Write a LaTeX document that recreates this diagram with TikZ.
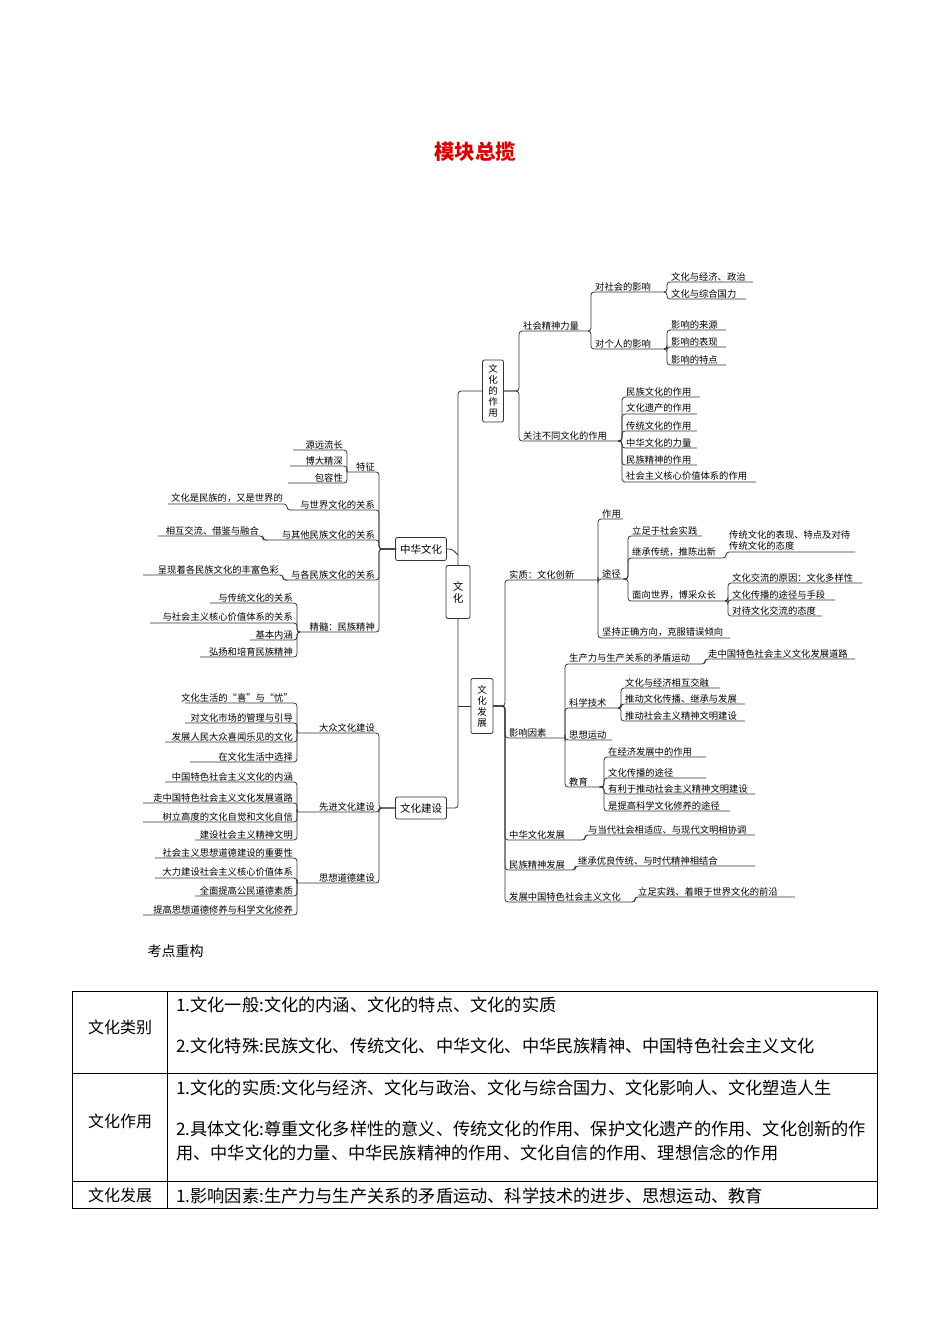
\documentclass[tikz,border=0pt]{standalone}
\usepackage{fontspec}
\setmainfont{Noto Sans CJK SC}
\begin{document}
\begin{tikzpicture}[x=1pt,y=-1pt,
  lbl/.style={inner sep=1pt,font=\fontsize{9.3}{10}\selectfont,text=black},
  ln/.style={draw=black!80,line width=0.8pt,rounded corners=3pt},
  box/.style={draw=black!80,line width=0.8pt,rounded corners=2pt,font=\fontsize{10.5}{12}\selectfont,inner sep=2pt,align=center},
  tb/.style={font=\fontsize{17.2}{18}\selectfont,inner sep=0pt,anchor=west}]
\useasboundingbox (0,0) rectangle (950,1344);
\newcommand\Rt[4]{\node[lbl,anchor=south west] (#1) at (#2+3,#3) {#4};}
\newcommand\Lt[4]{\node[lbl,anchor=south east] (#1) at (#2-3,#3) {#4};}
\newcommand\cn[5]{\draw[ln] (#1,#2) -- (#3,#2) -- (#3,#4) -- (#5,#4);}
% title
\node[font=\fontsize{20.5}{22}\selectfont\bfseries,text=red!85!black] (title) at (475,152) {模块总揽};
% boxes
\node[box,minimum width=24pt,minimum height=53pt] (wh) at (458,592) {文\\化};
\node[box,minimum width=21pt,minimum height=62pt,font=\fontsize{9.5}{11}\selectfont] (zy) at (493,391) {文\\化\\的\\作\\用};
\node[box,minimum width=22pt,minimum height=55pt,font=\fontsize{9.5}{11}\selectfont] (fz) at (482,706) {文\\化\\发\\展};
\node[box,minimum width=51pt,minimum height=23pt] (zh) at (421,549) {中华文化};
\node[box,minimum width=51pt,minimum height=22pt] (js) at (421,808) {文化建设};
% main connectors
\draw[ln] (zy.west) -- (458,391) -- (wh.north);
\draw[ln] (zh.east) -- (452,549) -- (458,555);
\draw[ln] (wh.south) -- (458,808) -- (js.east);
\draw[ln] (fz.west) -- (458,706);
% ---- 文化的作用
\cn{504}{391}{519}{331}{588}\Rt{a1}{519}{331}{社会精神力量}
\cn{504}{391}{519}{441}{618}\Rt{a2}{519}{441}{关注不同文化的作用}
\cn{588}{331}{591}{292}{664}\Rt{a11}{591}{292}{对社会的影响}
\cn{588}{331}{591}{349}{664}\Rt{a12}{591}{349}{对个人的影响}
\cn{664}{292}{667}{282}{753}\Rt{b1}{667}{282}{文化与经济、政治}
\cn{664}{292}{667}{299}{746}\Rt{b2}{667}{299}{文化与综合国力}
\cn{664}{349}{667}{330}{726}\Rt{b3}{667}{330}{影响的来源}
\cn{664}{349}{667}{347}{726}\Rt{b4}{667}{347}{影响的表现}
\cn{664}{349}{667}{365}{726}\Rt{b5}{667}{365}{影响的特点}
\cn{618}{441}{622}{397}{700}\Rt{c1}{622}{397}{民族文化的作用}
\cn{618}{441}{622}{414}{697}\Rt{c2}{622}{414}{文化遗产的作用}
\cn{618}{441}{622}{431}{697}\Rt{c3}{622}{431}{传统文化的作用}
\cn{618}{441}{622}{448}{697}\Rt{c4}{622}{448}{中华文化的力量}
\cn{618}{441}{622}{465}{697}\Rt{c5}{622}{465}{民族精神的作用}
\cn{618}{441}{622}{482}{756}\Rt{c6}{622}{482}{社会主义核心价值体系的作用}
% ---- 中华文化
\cn{396}{549}{379}{472}{347}\Lt{d1}{379}{472}{特征}
\cn{396}{549}{379}{510}{290}\Lt{d2}{379}{510}{与世界文化的关系}
\cn{396}{549}{379}{540}{265}\Lt{d3}{379}{540}{与其他民族文化的关系}
\cn{396}{549}{379}{580}{285}\Lt{d4}{379}{580}{与各民族文化的关系}
\cn{396}{549}{379}{632}{300}\Lt{d5}{379}{632}{精髓：民族精神}
\cn{347}{472}{347}{450}{293}\Lt{e1}{347}{450}{源远流长}
\cn{347}{472}{347}{466}{290}\Lt{e2}{347}{466}{博大精深}
\cn{347}{472}{347}{483}{288}\Lt{e3}{347}{483}{包容性}
\cn{290}{510}{287}{504}{168}\Lt{e4}{287}{504}{文化是民族的，又是世界的}
\cn{265}{540}{263}{536}{158}\Lt{e5}{263}{536}{相互交流、借鉴与融合}
\cn{285}{580}{283}{575}{143}\Lt{e6}{283}{575}{呈现着各民族文化的丰富色彩}
\cn{300}{632}{297}{603}{210}\Lt{f1}{297}{603}{与传统文化的关系}
\cn{300}{632}{297}{623}{150}\Lt{f2}{297}{623}{与社会主义核心价值体系的关系}
\cn{300}{632}{297}{640}{250}\Lt{f3}{297}{640}{基本内涵}
\cn{300}{632}{297}{657}{200}\Lt{f4}{297}{657}{弘扬和培育民族精神}
% ---- 文化建设
\cn{396}{808}{379}{733}{297}\Lt{g1}{379}{733}{大众文化建设}
\cn{396}{808}{379}{812}{297}\Lt{g2}{379}{812}{先进文化建设}
\cn{396}{808}{379}{883}{297}\Lt{g3}{379}{883}{思想道德建设}
\cn{297}{733}{297}{703}{185}\Lt{h1}{297}{703}{文化生活的“喜”与“忧”}
\cn{297}{733}{297}{723}{185}\Lt{h2}{297}{723}{对文化市场的管理与引导}
\cn{297}{733}{297}{742}{165}\Lt{h3}{297}{742}{发展人民大众喜闻乐见的文化}
\cn{297}{733}{297}{762}{190}\Lt{h4}{297}{762}{在文化生活中选择}
\cn{297}{812}{297}{782}{165}\Lt{h5}{297}{782}{中国特色社会主义文化的内涵}
\cn{297}{812}{297}{803}{143}\Lt{h6}{297}{803}{走中国特色社会主义文化发展道路}
\cn{297}{812}{297}{822}{143}\Lt{h7}{297}{822}{树立高度的文化自觉和文化自信}
\cn{297}{812}{297}{840}{195}\Lt{h8}{297}{840}{建设社会主义精神文明}
\cn{297}{883}{297}{858}{155}\Lt{h9}{297}{858}{社会主义思想道德建设的重要性}
\cn{297}{883}{297}{878}{155}\Lt{h10}{297}{878}{大力建设社会主义核心价值体系}
\cn{297}{883}{297}{896}{195}\Lt{h11}{297}{896}{全面提高公民道德素质}
\cn{297}{883}{297}{915}{143}\Lt{h12}{297}{915}{提高思想道德修养与科学文化修养}
% ---- 文化发展
\cn{493}{706}{505}{580}{598}\Rt{i1}{505}{580}{实质：文化创新}
\cn{493}{706}{505}{738}{565}\Rt{i2}{505}{738}{影响因素}
\cn{493}{706}{505}{840}{582}\Rt{i3}{505}{840}{中华文化发展}
\cn{493}{706}{505}{870}{572}\Rt{i4}{505}{870}{民族精神发展}
\cn{493}{706}{505}{902}{632}\Rt{i5}{505}{902}{发展中国特色社会主义文化}
\cn{598}{580}{598}{519}{623}\Rt{j1}{598}{519}{作用}
\cn{598}{580}{598}{579}{626}\Rt{j2}{598}{579}{途径}
\cn{598}{580}{598}{638}{730}\Rt{j3}{598}{638}{坚持正确方向，克服错误倾向}
\cn{626}{579}{628}{536}{702}\Rt{k1}{628}{536}{立足于社会实践}
\cn{626}{579}{628}{558}{722}\Rt{k2}{628}{558}{继承传统，推陈出新}
\cn{626}{579}{628}{601}{725}\Rt{k3}{628}{601}{面向世界，博采众长}
\cn{722}{558}{726}{552}{855}\node[lbl,anchor=south west,align=left,font=\fontsize{9.3}{11}\selectfont] (k21) at (728,551) {传统文化的表现、特点及对待\\传统文化的态度};
\cn{725}{601}{728}{583}{862}\Rt{k31}{728}{583}{文化交流的原因：文化多样性}
\cn{725}{601}{728}{600}{835}\Rt{k32}{728}{600}{文化传播的途径与手段}
\cn{725}{601}{728}{616}{822}\Rt{k33}{728}{616}{对待文化交流的态度}
\cn{565}{738}{565}{664}{702}\Rt{l1}{565}{664}{生产力与生产关系的矛盾运动}
\cn{565}{738}{565}{708}{618}\Rt{l2}{565}{708}{科学技术}
\cn{565}{738}{565}{740}{612}\Rt{l3}{565}{740}{思想运动}
\cn{565}{738}{565}{787}{603}\Rt{l4}{565}{787}{教育}
\cn{702}{664}{705}{659}{855}\Rt{m1}{704}{659}{走中国特色社会主义文化发展道路}
\cn{618}{708}{621}{688}{720}\Rt{m2}{621}{688}{文化与经济相互交融}
\cn{618}{708}{621}{704}{745}\Rt{m3}{621}{704}{推动文化传播、继承与发展}
\cn{618}{708}{621}{721}{745}\Rt{m4}{621}{721}{推动社会主义精神文明建设}
\cn{603}{787}{604}{757}{706}\Rt{n1}{604}{757}{在经济发展中的作用}
\cn{603}{787}{604}{778}{706}\Rt{n2}{604}{778}{文化传播的途径}
\cn{603}{787}{604}{794}{755}\Rt{n3}{604}{794}{有利于推动社会主义精神文明建设}
\cn{603}{787}{604}{811}{730}\Rt{n4}{604}{811}{是提高科学文化修养的途径}
\cn{582}{840}{585}{835}{755}\Rt{o1}{584}{835}{与当代社会相适应、与现代文明相协调}
\cn{572}{870}{575}{866}{755}\Rt{o2}{574}{866}{继承优良传统、与时代精神相结合}
\cn{632}{902}{635}{897}{795}\Rt{o3}{634}{897}{立足实践、着眼于世界文化的前沿}
% ---- table
\node[font=\fontsize{14}{16}\selectfont,anchor=west] (kd) at (144,951) {考点重构};
\draw[line width=0.7pt] (72,991) rectangle (877,1208);
\draw[line width=0.7pt] (72,1073) -- (877,1073) (72,1181) -- (877,1181) (167,991) -- (167,1208);
\node[tb,anchor=center,font=\fontsize{16}{18}\selectfont] (t1) at (120,1027) {文化类别};
\node[tb,anchor=center,font=\fontsize{16}{18}\selectfont] (t2) at (120,1121) {文化作用};
\node[tb,anchor=center,font=\fontsize{16}{18}\selectfont] (t3) at (120,1195) {文化发展};
\node[tb] (r1) at (176,1005) {1.文化一般:文化的内涵、文化的特点、文化的实质};
\node[tb] (r2) at (176,1046) {2.文化特殊:民族文化、传统文化、中华文化、中华民族精神、中国特色社会主义文化};
\node[tb] (r3) at (176,1088) {1.文化的实质:文化与经济、文化与政治、文化与综合国力、文化影响人、文化塑造人生};
\node[tb] (r4) at (176,1129) {2.具体文化:尊重文化多样性的意义、传统文化的作用、保护文化遗产的作用、文化创新的作};
\node[tb] (r5) at (176,1153) {用、中华文化的力量、中华民族精神的作用、文化自信的作用、理想信念的作用};
\node[tb] (r6) at (176,1196) {1.影响因素:生产力与生产关系的矛盾运动、科学技术的进步、思想运动、教育};
\end{tikzpicture}
\end{document}
